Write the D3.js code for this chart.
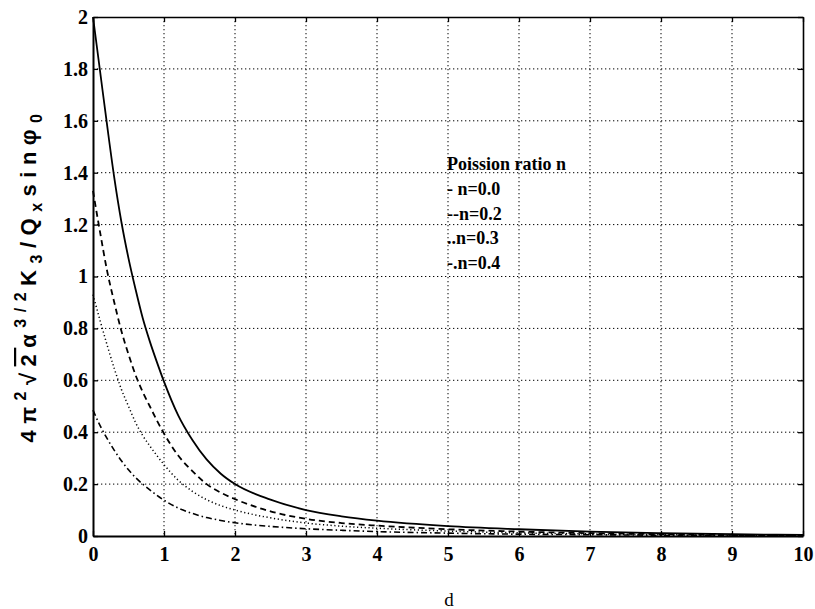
<!DOCTYPE html>
<html>
<head>
<meta charset="utf-8">
<script src="https://cdn.jsdelivr.net/npm/d3@7/dist/d3.min.js"></script>
<style>
  html, body { margin: 0; padding: 0; background: #fff; }
  svg { display: block; }
</style>
</head>
<body>
<svg id="chart" width="815" height="609"></svg>
<script>
// ---- data ----
const dValues = [0, 0.1, 0.2, 0.3, 0.4, 0.5, 0.6, 0.7, 0.8, 0.9, 1.0, 1.2, 1.4, 1.6, 1.8, 2.0, 2.5, 3, 3.5, 4, 5, 6, 7, 8, 9, 10];
const seriesN00 = [2.00, 1.79, 1.58, 1.38, 1.21, 1.07, 0.95, 0.84, 0.75, 0.67, 0.595, 0.465, 0.37, 0.295, 0.24, 0.20, 0.14, 0.10, 0.076, 0.059, 0.038, 0.026, 0.017, 0.011, 0.007, 0.004];
const seriesN02 = [1.33, 1.17, 1.02, 0.90, 0.79, 0.70, 0.62, 0.555, 0.50, 0.445, 0.395, 0.31, 0.25, 0.20, 0.167, 0.142, 0.095, 0.066, 0.05, 0.04, 0.026, 0.017, 0.011, 0.007, 0.004, 0.002];
const seriesN03 = [0.93, 0.83, 0.735, 0.645, 0.565, 0.50, 0.437, 0.387, 0.347, 0.31, 0.275, 0.215, 0.172, 0.14, 0.117, 0.10, 0.07, 0.05, 0.038, 0.03, 0.019, 0.012, 0.008, 0.005, 0.003, 0.002];
const seriesN04 = [0.485, 0.425, 0.375, 0.33, 0.29, 0.255, 0.225, 0.20, 0.178, 0.157, 0.138, 0.108, 0.087, 0.071, 0.06, 0.051, 0.037, 0.028, 0.022, 0.017, 0.011, 0.007, 0.005, 0.003, 0.002, 0.001];
const xTicks = [0, 1, 2, 3, 4, 5, 6, 7, 8, 9, 10];
const yTicks = [0, 0.2, 0.4, 0.6, 0.8, 1, 1.2, 1.4, 1.6, 1.8, 2];
const legendTitle = "Poission ratio n";
const legendLabels = ["- n=0.0", "--n=0.2", "..n=0.3", "-.n=0.4"];
const xLabel = "d";

const series = [
  { values: seriesN00, dash: null, width: 1.8 },
  { values: seriesN02, dash: "6,4", width: 1.8 },
  { values: seriesN03, dash: "1.2,2.6", width: 1.5 },
  { values: seriesN04, dash: "6,3,1.5,3", width: 1.6 }
];

// ---- layout ----
const svg = d3.select("#chart");
const mLeft = 93, mRight = 803, mTop = 17, mBottom = 536;
const x = d3.scaleLinear().domain([0, 10]).range([mLeft, mRight]);
const y = d3.scaleLinear().domain([0, 2]).range([mBottom, mTop]);
const serif = "'Liberation Serif', 'Times New Roman', serif";

// grid
const grid = svg.append("g").attr("stroke", "#000").attr("stroke-width", 1).attr("stroke-dasharray", "1.3,2.7");
grid.selectAll("line.vx").data(xTicks.slice(1, -1)).join("line")
  .attr("x1", d => x(d)).attr("x2", d => x(d)).attr("y1", mTop).attr("y2", mBottom);
grid.selectAll("line.hy").data(yTicks.slice(1, -1)).join("line")
  .attr("x1", mLeft).attr("x2", mRight).attr("y1", d => y(d)).attr("y2", d => y(d));

// axes
function styleAxis(g) {
  g.selectAll(".domain").attr("stroke", "#000").attr("stroke-width", 1.6);
  g.selectAll(".tick line").attr("stroke", "#000").attr("stroke-width", 1.3);
  g.selectAll(".tick text").attr("fill", "#000").attr("font-family", serif)
    .attr("font-weight", "bold").attr("font-size", 20);
}
svg.append("g").attr("transform", `translate(0,${mBottom})`)
  .call(d3.axisBottom(x).tickValues(xTicks).tickFormat(d3.format("d")).tickSize(-5).tickSizeOuter(0).tickPadding(11))
  .call(styleAxis).call(g => g.select(".domain").attr("stroke-width", 2.2));
svg.append("g").attr("transform", `translate(${mLeft},0)`)
  .call(d3.axisLeft(y).tickValues(yTicks).tickFormat(d => String(+d.toFixed(1))).tickSize(-5).tickSizeOuter(0).tickPadding(5))
  .call(styleAxis).call(g => g.select(".domain").attr("stroke-width", 2));
svg.append("g").attr("transform", `translate(0,${mTop})`)
  .call(d3.axisTop(x).tickValues(xTicks).tickFormat("").tickSize(-5).tickSizeOuter(0))
  .call(styleAxis);
svg.append("g").attr("transform", `translate(${mRight},0)`)
  .call(d3.axisRight(y).tickValues(yTicks).tickFormat("").tickSize(-5).tickSizeOuter(0))
  .call(styleAxis);

// curves
const line = d3.line().x((d, i) => x(dValues[i])).y(d => y(d)).curve(d3.curveMonotoneX);
svg.append("g").selectAll("path").data(series).join("path")
  .attr("d", s => line(s.values))
  .attr("fill", "none").attr("stroke", "#000")
  .attr("stroke-width", s => s.width)
  .attr("stroke-dasharray", s => s.dash);

// legend (text only)
const lg = svg.append("g").attr("font-family", serif).attr("font-weight", "bold").attr("font-size", 18).attr("fill", "#000");
lg.append("text").attr("x", 447).attr("y", 170).text(legendTitle);
lg.selectAll("text.item").data(legendLabels).join("text").attr("class", "item")
  .attr("x", 447).attr("y", (d, i) => 195 + i * 24.5).text(d => d);

// x label
svg.append("text").attr("x", 449).attr("y", 606).attr("text-anchor", "middle")
  .attr("font-family", serif).attr("font-size", 19).text(xLabel);

// y label
const yl = svg.append("text").attr("transform", "translate(36,275) rotate(-90)")
  .attr("text-anchor", "middle").attr("font-family", "'Liberation Sans', Arial, sans-serif")
  .attr("font-weight", "bold").attr("font-size", 22).attr("letter-spacing", 6.5);
yl.append("tspan").text("4π");
yl.append("tspan").attr("dy", -10).attr("font-size", 16).text("2");
yl.append("tspan").attr("dy", 10).text("√");
yl.append("tspan").attr("text-decoration", "overline").text("2");
yl.append("tspan").text("α");
yl.append("tspan").attr("dy", -10).attr("font-size", 16).text("3/2");
yl.append("tspan").attr("dy", 10).text("K");
yl.append("tspan").attr("dy", 6).attr("font-size", 16).text("3");
yl.append("tspan").attr("dy", -6).text("/Q");
yl.append("tspan").attr("dy", 6).attr("font-size", 16).text("x");
yl.append("tspan").attr("dy", -6).text("sinφ");
yl.append("tspan").attr("dy", 6).attr("font-size", 16).text("0");
</script>
</body>
</html>
